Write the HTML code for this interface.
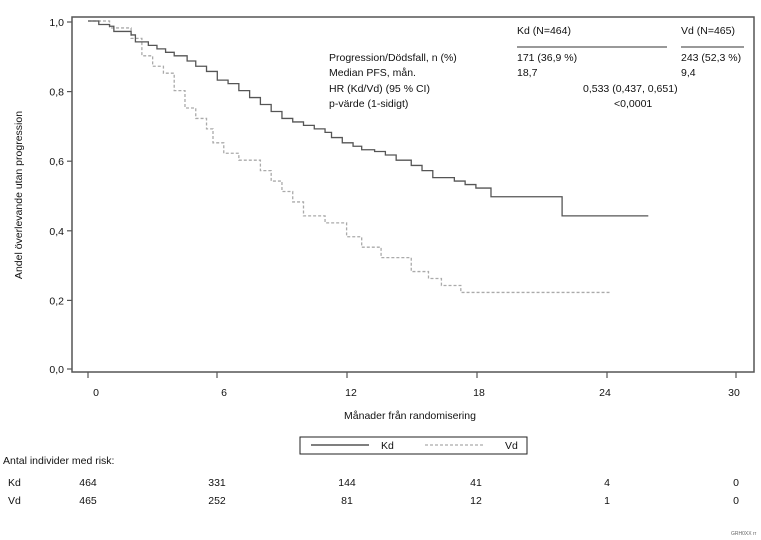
<!DOCTYPE html>
<html><head><meta charset="utf-8"><style>
html,body{margin:0;padding:0;background:#fff;}
svg{display:block;font-family:"Liberation Sans",Arial,sans-serif;}
text{font-size:10.5px;fill:#111;}
</style></head><body>
<svg width="761" height="540" viewBox="0 0 761 540">
<rect x="72" y="17" width="682" height="355" fill="none" stroke="#555" stroke-width="1.5"/>
<!-- y ticks -->
<g stroke="#555" stroke-width="1.2">
<line x1="67" y1="22" x2="72" y2="22"/><line x1="67" y1="91.6" x2="72" y2="91.6"/>
<line x1="67" y1="161.2" x2="72" y2="161.2"/><line x1="67" y1="230.8" x2="72" y2="230.8"/>
<line x1="67" y1="300.4" x2="72" y2="300.4"/><line x1="67" y1="369" x2="72" y2="369"/>
<line x1="88" y1="372" x2="88" y2="378"/><line x1="217" y1="372" x2="217" y2="378"/>
<line x1="347" y1="372" x2="347" y2="378"/><line x1="477" y1="372" x2="477" y2="378"/>
<line x1="607" y1="372" x2="607" y2="378"/><line x1="736" y1="372" x2="736" y2="378"/>
</g>
<g text-anchor="end">
<text x="64" y="26">1,0</text><text x="64" y="95.6">0,8</text><text x="64" y="165.2">0,6</text>
<text x="64" y="234.8">0,4</text><text x="64" y="304.4">0,2</text><text x="64" y="373">0,0</text>
</g>
<g text-anchor="middle">
<text x="96" y="396">0</text><text x="224" y="396">6</text><text x="351" y="396">12</text>
<text x="479" y="396">18</text><text x="605" y="396">24</text><text x="734" y="396">30</text>
<text x="410" y="419">Månader från randomisering</text>
</g>
<text transform="translate(22,195) rotate(-90)" text-anchor="middle">Andel överlevande  utan progression</text>
<!-- curves -->
<g transform="translate(88,369) scale(21.55,-348)" fill="none">
<path vector-effect="non-scaling-stroke" stroke="#aaa" stroke-width="1.3" stroke-dasharray="3,2"
d="M0 1 H1 V0.98 H2 V0.95 H2.5 V0.9 H3 V0.87 H3.5 V0.85 H4 V0.8 H4.5 V0.75 H5 V0.72 H5.5 V0.69 H5.8 V0.65 H6.3 V0.62 H7 V0.6 H8 V0.57 H8.5 V0.54 H9 V0.51 H9.5 V0.48 H10 V0.44 H11 V0.42 H12 V0.38 H12.7 V0.35 H13.6 V0.32 H15 V0.28 H15.8 V0.26 H16.4 V0.24 H17.3 V0.22 H24.2"/>
<path vector-effect="non-scaling-stroke" stroke="#555" stroke-width="1.3"
d="M0 1 H0.5 V0.99 H1 V0.985 H1.2 V0.97 H2 V0.96 H2.2 V0.94 H2.8 V0.93 H3.2 V0.92 H3.6 V0.91 H4 V0.9 H4.6 V0.885 H5 V0.87 H5.5 V0.855 H6 V0.83 H6.5 V0.82 H7 V0.8 H7.5 V0.78 H8 V0.76 H8.5 V0.74 H9 V0.72 H9.5 V0.71 H10 V0.7 H10.5 V0.69 H11 V0.68 H11.3 V0.665 H11.8 V0.65 H12.3 V0.64 H12.7 V0.63 H13.3 V0.625 H13.8 V0.615 H14.3 V0.6 H15 V0.585 H15.5 V0.57 H16 V0.55 H17 V0.54 H17.5 V0.53 H18 V0.52 H18.7 V0.495 H22 V0.44 H26"/>
</g>
<!-- stats table -->
<text x="517" y="34">Kd (N=464)</text><text x="681" y="34">Vd (N=465)</text>
<line x1="517" y1="47" x2="667" y2="47" stroke="#333" stroke-width="1"/>
<line x1="681" y1="47" x2="744" y2="47" stroke="#333" stroke-width="1"/>
<text x="329" y="61">Progression/Dödsfall,  n (%)</text><text x="517" y="61">171 (36,9 %)</text><text x="681" y="61">243 (52,3 %)</text>
<text x="329" y="76">Median PFS, mån.</text><text x="517" y="76">18,7</text><text x="681" y="76">9,4</text>
<text x="329" y="92">HR (Kd/Vd) (95 % CI)</text><text x="583" y="92">0,533 (0,437, 0,651)</text>
<text x="329" y="107">p-värde (1-sidigt)</text><text x="614" y="107">&lt;0,0001</text>
<!-- legend -->
<rect x="300" y="437" width="227" height="17" fill="none" stroke="#222" stroke-width="1"/>
<line x1="311" y1="445" x2="369" y2="445" stroke="#555" stroke-width="1.5"/>
<text x="381" y="449">Kd</text>
<line x1="425" y1="445" x2="485" y2="445" stroke="#aaa" stroke-width="1.3" stroke-dasharray="3,2"/>
<text x="505" y="449">Vd</text>
<!-- risk table -->
<text x="3" y="464">Antal individer  med risk:</text>
<text x="8" y="486">Kd</text><text x="8" y="504">Vd</text>
<g text-anchor="middle">
<text x="88" y="486">464</text><text x="217" y="486">331</text><text x="347" y="486">144</text><text x="476" y="486">41</text><text x="607" y="486">4</text><text x="736" y="486">0</text>
<text x="88" y="504">465</text><text x="217" y="504">252</text><text x="347" y="504">81</text><text x="476" y="504">12</text><text x="607" y="504">1</text><text x="736" y="504">0</text>
</g>
<text x="731" y="535" style="font-size:5px;fill:#666">GRH0XX rr</text>
</svg>
</body></html>
